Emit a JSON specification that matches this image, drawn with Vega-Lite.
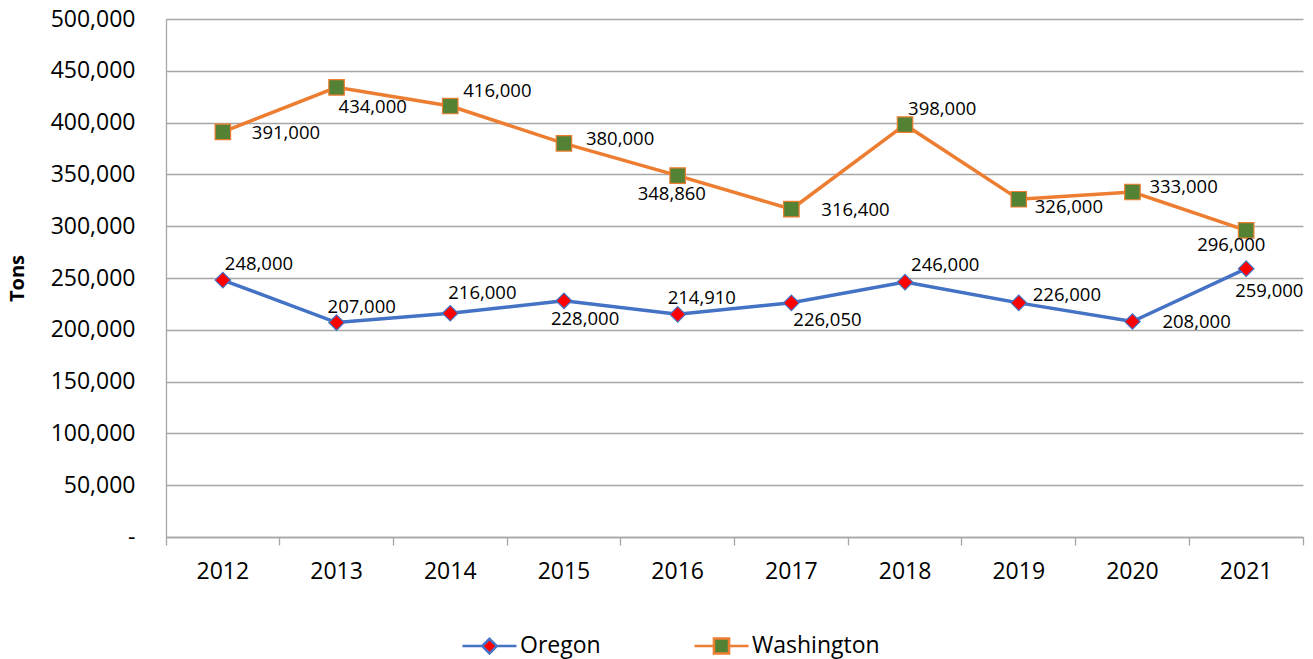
{
  "$schema": "https://vega.github.io/schema/vega-lite/v6.json",
  "width": 1137,
  "height": 518,
  "autosize": {"type": "none"},
  "padding": {"left": 166, "top": 19, "right": 10, "bottom": 122},
  "background": "#ffffff",
  "config": {
    "view": {"stroke": null},
    "font": "Open Sans",
    "axis": {"labelFont": "Open Sans", "labelColor": "#000000", "titleColor": "#000000", "domainColor": "#a6a6a6", "tickColor": "#a6a6a6", "gridColor": "#a6a6a6"}
  },
  "data": {
    "values": [
      {"year": "2012", "series": "Oregon", "tons": 248000},
      {"year": "2013", "series": "Oregon", "tons": 207000},
      {"year": "2014", "series": "Oregon", "tons": 216000},
      {"year": "2015", "series": "Oregon", "tons": 228000},
      {"year": "2016", "series": "Oregon", "tons": 214910},
      {"year": "2017", "series": "Oregon", "tons": 226050},
      {"year": "2018", "series": "Oregon", "tons": 246000},
      {"year": "2019", "series": "Oregon", "tons": 226000},
      {"year": "2020", "series": "Oregon", "tons": 208000},
      {"year": "2021", "series": "Oregon", "tons": 259000},
      {"year": "2012", "series": "Washington", "tons": 391000},
      {"year": "2013", "series": "Washington", "tons": 434000},
      {"year": "2014", "series": "Washington", "tons": 416000},
      {"year": "2015", "series": "Washington", "tons": 380000},
      {"year": "2016", "series": "Washington", "tons": 348860},
      {"year": "2017", "series": "Washington", "tons": 316400},
      {"year": "2018", "series": "Washington", "tons": 398000},
      {"year": "2019", "series": "Washington", "tons": 326000},
      {"year": "2020", "series": "Washington", "tons": 333000},
      {"year": "2021", "series": "Washington", "tons": 296000}
    ]
  },
  "encoding": {
    "x": {
      "field": "year", "type": "ordinal", "title": null,
      "scale": {"type": "band", "paddingInner": 0, "paddingOuter": 0},
      "axis": {"labelAngle": 0, "labelFontSize": 23, "bandPosition": 1, "tickExtra": true, "ticks": true, "tickSize": 8, "tickWidth": 1.3, "domainWidth": 1.3, "labelPadding": 15, "grid": false}
    },
    "y": {
      "field": "tons", "type": "quantitative", "title": "Tons",
      "scale": {"domain": [0, 500000]},
      "axis": {"values": [0, 50000, 100000, 150000, 200000, 250000, 300000, 350000, 400000, 450000, 500000], "labelExpr": "datum.value == 0 ? '-\u00a0\u00a0\u00a0' : format(datum.value, ',')", "labelFontSize": 23, "ticks": false, "labelPadding": 31, "grid": true, "gridWidth": 1.3, "domainWidth": 1.3, "titleFont": "Open Sans", "titleFontSize": 20, "titleFontWeight": "bold", "titlePadding": 23}
    }
  },
  "layer": [
    {"transform": [{"filter": "datum.series == 'Oregon'"}], "mark": {"type": "line", "strokeWidth": 3.5, "stroke": "#4472C4"}, "encoding": {}},
    {"transform": [{"filter": "datum.series == 'Washington'"}], "mark": {"type": "line", "strokeWidth": 3.5, "stroke": "#ED7D31"}, "encoding": {}},
    {"transform": [{"filter": "datum.series == 'Oregon'"}], "mark": {"type": "point", "shape": "diamond", "filled": true, "opacity": 1, "size": 240, "strokeWidth": 1.2, "fill": "#FF0000", "stroke": "#4472C4"}, "encoding": {}},
    {"transform": [{"filter": "datum.series == 'Washington'"}], "mark": {"type": "point", "shape": "square", "filled": true, "opacity": 1, "size": 240, "strokeWidth": 1.2, "fill": "#548235", "stroke": "#ED7D31"}, "encoding": {}},
    {
      "mark": {"type": "point", "filled": true, "opacity": 0, "size": 240},
      "encoding": {
        "stroke": {"field": "series", "type": "nominal", "scale": {"domain": ["Oregon", "Washington"], "range": ["#4472C4", "#ED7D31"]},
          "legend": {"orient": "none", "legendX": 295, "legendY": 598, "direction": "horizontal", "title": null, "labelFont": "Open Sans", "labelFontSize": 23, "labelColor": "#000000", "symbolSize": 2916, "symbolStrokeWidth": 2.5, "symbolOpacity": 1, "labelOffset": 2, "columnPadding": 88, "padding": 0}},
        "fill": {"field": "series", "type": "nominal", "scale": {"domain": ["Oregon", "Washington"], "range": ["#FF0000", "#548235"]},
          "legend": {"orient": "none", "legendX": 295, "legendY": 598, "direction": "horizontal", "title": null, "labelFont": "Open Sans", "labelFontSize": 23, "labelColor": "#000000", "symbolSize": 2916, "symbolStrokeWidth": 2.5, "symbolOpacity": 1, "labelOffset": 2, "columnPadding": 88, "padding": 0}},
        "shape": {"field": "series", "type": "nominal", "scale": {"domain": ["Oregon", "Washington"], "range": ["M-1,0L-0.27,0M0.27,0L1,0M0,-0.27L0.27,0L0,0.27L-0.27,0Z", "M-1,0L-0.28,0M0.28,0L1,0M-0.28,-0.28L0.28,-0.28L0.28,0.28L-0.28,0.28Z"]},
          "legend": {"orient": "none", "legendX": 295, "legendY": 598, "direction": "horizontal", "title": null, "labelFont": "Open Sans", "labelFontSize": 23, "labelColor": "#000000", "symbolSize": 2916, "symbolStrokeWidth": 2.5, "symbolOpacity": 1, "labelOffset": 2, "columnPadding": 88, "padding": 0}}
      }
    },
    {"transform": [{"filter": "datum.series == 'Washington' && datum.year == '2012'"}], "mark": {"type": "text", "font": "Open Sans", "fontSize": 18.5, "fill": "#000000", "align": "left", "baseline": "middle", "dx": 29, "dy": 1}, "encoding": {"text": {"field": "tons", "type": "quantitative", "format": ","}}},
    {"transform": [{"filter": "datum.series == 'Washington' && datum.year == '2013'"}], "mark": {"type": "text", "font": "Open Sans", "fontSize": 18.5, "fill": "#000000", "align": "left", "baseline": "middle", "dx": 2, "dy": 20}, "encoding": {"text": {"field": "tons", "type": "quantitative", "format": ","}}},
    {"transform": [{"filter": "datum.series == 'Washington' && datum.year == '2014'"}], "mark": {"type": "text", "font": "Open Sans", "fontSize": 18.5, "fill": "#000000", "align": "left", "baseline": "middle", "dx": 13, "dy": -15}, "encoding": {"text": {"field": "tons", "type": "quantitative", "format": ","}}},
    {"transform": [{"filter": "datum.series == 'Washington' && datum.year == '2015'"}], "mark": {"type": "text", "font": "Open Sans", "fontSize": 18.5, "fill": "#000000", "align": "left", "baseline": "middle", "dx": 22, "dy": -4}, "encoding": {"text": {"field": "tons", "type": "quantitative", "format": ","}}},
    {"transform": [{"filter": "datum.series == 'Washington' && datum.year == '2016'"}], "mark": {"type": "text", "font": "Open Sans", "fontSize": 18.5, "fill": "#000000", "align": "left", "baseline": "middle", "dx": -40, "dy": 18}, "encoding": {"text": {"field": "tons", "type": "quantitative", "format": ","}}},
    {"transform": [{"filter": "datum.series == 'Washington' && datum.year == '2017'"}], "mark": {"type": "text", "font": "Open Sans", "fontSize": 18.5, "fill": "#000000", "align": "left", "baseline": "middle", "dx": 30, "dy": 1}, "encoding": {"text": {"field": "tons", "type": "quantitative", "format": ","}}},
    {"transform": [{"filter": "datum.series == 'Washington' && datum.year == '2018'"}], "mark": {"type": "text", "font": "Open Sans", "fontSize": 18.5, "fill": "#000000", "align": "left", "baseline": "middle", "dx": 3, "dy": -16}, "encoding": {"text": {"field": "tons", "type": "quantitative", "format": ","}}},
    {"transform": [{"filter": "datum.series == 'Washington' && datum.year == '2019'"}], "mark": {"type": "text", "font": "Open Sans", "fontSize": 18.5, "fill": "#000000", "align": "left", "baseline": "middle", "dx": 16, "dy": 8}, "encoding": {"text": {"field": "tons", "type": "quantitative", "format": ","}}},
    {"transform": [{"filter": "datum.series == 'Washington' && datum.year == '2020'"}], "mark": {"type": "text", "font": "Open Sans", "fontSize": 18.5, "fill": "#000000", "align": "left", "baseline": "middle", "dx": 17, "dy": -5}, "encoding": {"text": {"field": "tons", "type": "quantitative", "format": ","}}},
    {"transform": [{"filter": "datum.series == 'Washington' && datum.year == '2021'"}], "mark": {"type": "text", "font": "Open Sans", "fontSize": 18.5, "fill": "#000000", "align": "left", "baseline": "middle", "dx": -49, "dy": 15}, "encoding": {"text": {"field": "tons", "type": "quantitative", "format": ","}}},
    {"transform": [{"filter": "datum.series == 'Oregon' && datum.year == '2012'"}], "mark": {"type": "text", "font": "Open Sans", "fontSize": 18.5, "fill": "#000000", "align": "left", "baseline": "middle", "dx": 2, "dy": -16}, "encoding": {"text": {"field": "tons", "type": "quantitative", "format": ","}}},
    {"transform": [{"filter": "datum.series == 'Oregon' && datum.year == '2013'"}], "mark": {"type": "text", "font": "Open Sans", "fontSize": 18.5, "fill": "#000000", "align": "left", "baseline": "middle", "dx": -9, "dy": -16}, "encoding": {"text": {"field": "tons", "type": "quantitative", "format": ","}}},
    {"transform": [{"filter": "datum.series == 'Oregon' && datum.year == '2014'"}], "mark": {"type": "text", "font": "Open Sans", "fontSize": 18.5, "fill": "#000000", "align": "left", "baseline": "middle", "dx": -2, "dy": -20}, "encoding": {"text": {"field": "tons", "type": "quantitative", "format": ","}}},
    {"transform": [{"filter": "datum.series == 'Oregon' && datum.year == '2015'"}], "mark": {"type": "text", "font": "Open Sans", "fontSize": 18.5, "fill": "#000000", "align": "left", "baseline": "middle", "dx": -13, "dy": 18}, "encoding": {"text": {"field": "tons", "type": "quantitative", "format": ","}}},
    {"transform": [{"filter": "datum.series == 'Oregon' && datum.year == '2016'"}], "mark": {"type": "text", "font": "Open Sans", "fontSize": 18.5, "fill": "#000000", "align": "left", "baseline": "middle", "dx": -10, "dy": -16}, "encoding": {"text": {"field": "tons", "type": "quantitative", "format": ","}}},
    {"transform": [{"filter": "datum.series == 'Oregon' && datum.year == '2017'"}], "mark": {"type": "text", "font": "Open Sans", "fontSize": 18.5, "fill": "#000000", "align": "left", "baseline": "middle", "dx": 2, "dy": 17}, "encoding": {"text": {"field": "tons", "type": "quantitative", "format": ","}}},
    {"transform": [{"filter": "datum.series == 'Oregon' && datum.year == '2018'"}], "mark": {"type": "text", "font": "Open Sans", "fontSize": 18.5, "fill": "#000000", "align": "left", "baseline": "middle", "dx": 6, "dy": -17}, "encoding": {"text": {"field": "tons", "type": "quantitative", "format": ","}}},
    {"transform": [{"filter": "datum.series == 'Oregon' && datum.year == '2019'"}], "mark": {"type": "text", "font": "Open Sans", "fontSize": 18.5, "fill": "#000000", "align": "left", "baseline": "middle", "dx": 14, "dy": -8}, "encoding": {"text": {"field": "tons", "type": "quantitative", "format": ","}}},
    {"transform": [{"filter": "datum.series == 'Oregon' && datum.year == '2020'"}], "mark": {"type": "text", "font": "Open Sans", "fontSize": 18.5, "fill": "#000000", "align": "left", "baseline": "middle", "dx": 30, "dy": 0}, "encoding": {"text": {"field": "tons", "type": "quantitative", "format": ","}}},
    {"transform": [{"filter": "datum.series == 'Oregon' && datum.year == '2021'"}], "mark": {"type": "text", "font": "Open Sans", "fontSize": 18.5, "fill": "#000000", "align": "left", "baseline": "middle", "dx": -11, "dy": 22}, "encoding": {"text": {"field": "tons", "type": "quantitative", "format": ","}}}
  ]
}
